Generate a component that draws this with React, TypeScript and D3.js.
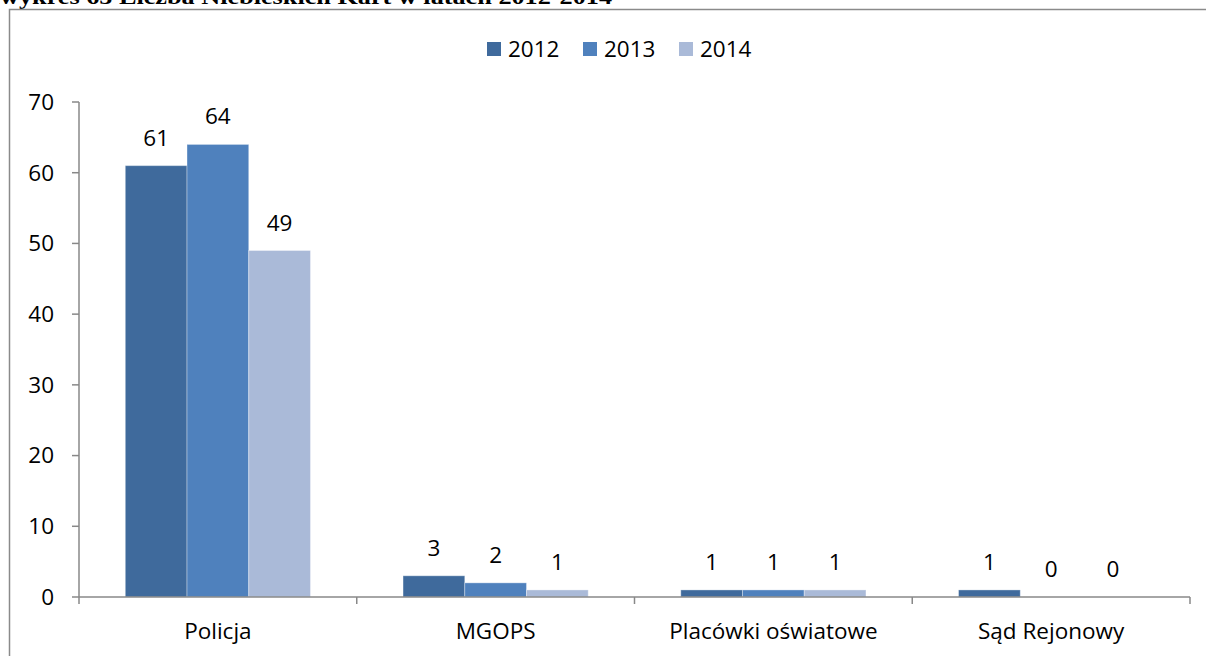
import React from "react";
import * as d3 from "d3";

const categories = ["Policja", "MGOPS", "Placówki oświatowe", "Sąd Rejonowy"];
const seriesNames = ["2012", "2013", "2014"];
const values2012 = [61, 3, 1, 1];
const values2013 = [64, 2, 1, 0];
const values2014 = [49, 1, 1, 0];
const yTicks = [0, 10, 20, 30, 40, 50, 60, 70];
const colors = ["#3F6A9C", "#4F81BD", "#AABAD8"];
const titleText = "wykres 65 Liczba Niebieskich Kart w latach 2012-2014";

const W = 1206;
const H = 656;
const FONT = "'Open Sans', 'Liberation Sans', sans-serif";
const FS = 22.5;

export default function App() {
  const series = [values2012, values2013, values2014];
  const x0 = d3.scaleBand<string>().domain(categories).range([79, 1190]).paddingInner(0).paddingOuter(0);
  const bw = x0.bandwidth();
  const barW = bw / 4.5;
  const x1 = d3.scaleBand<string>().domain(seriesNames).range([0, barW * 3]);
  const y = d3.scaleLinear().domain([0, 70]).range([597, 102]);

  const boundaries = categories.map((c) => x0(c)!).concat([1190]);

  return (
    <svg width={W} height={H} style={{ position: "absolute", left: 0, top: 0, display: "block" }}>
      <rect x={0} y={0} width={W} height={H} fill="#fff" />
      <text x={0} y={4} fontFamily="'Liberation Serif', 'Times New Roman', serif" fontWeight="bold" fontSize={22} textLength={612} lengthAdjust="spacingAndGlyphs" fill="#000">
        {titleText}
      </text>
      {/* chart border */}
      <path d={`M9.5,${H + 2} V9.5 H${W + 2}`} fill="none" stroke="#8a8a8a" strokeWidth={1.5} />

      {/* legend */}
      {seriesNames.map((s, i) => (
        <g key={s} transform={`translate(${487 + i * 96},0)`}>
          <rect x={0} y={42} width={14} height={14} fill={colors[i]} />
          <text x={21} y={49} dy="0.35em" fontFamily={FONT} fontSize={FS} fill="#000">{s}</text>
        </g>
      ))}

      {/* y axis */}
      <line x1={79} x2={79} y1={102} y2={597} stroke="#888" strokeWidth={1.5} />
      {yTicks.map((t) => (
        <g key={t}>
          <line x1={72} x2={79} y1={y(t)} y2={y(t)} stroke="#888" strokeWidth={1.5} />
          <text x={54} y={y(t)} dy="0.35em" textAnchor="end" fontFamily={FONT} fontSize={FS} fill="#000">{t}</text>
        </g>
      ))}

      {/* bars */}
      {categories.map((c, ci) => {
        const start = x0(c)! + (bw - barW * 3) / 2;
        return (
          <g key={c}>
            {seriesNames.map((s, si) => {
              const v = series[si][ci];
              const bx = start + x1(s)!;
              return (
                <g key={s}>
                  {v > 0 && (
                    <rect x={bx} y={y(v)} width={barW} height={y(0) - y(v)} fill={colors[si]} stroke="#ffffff" strokeOpacity={0.35} strokeWidth={1} />
                  )}
                  <text x={bx + barW / 2} y={y(v) - 20} textAnchor="middle" fontFamily={FONT} fontSize={FS} fill="#000">{v}</text>
                </g>
              );
            })}
            <text x={x0(c)! + bw / 2} y={639} textAnchor="middle" fontFamily={FONT} fontSize={FS} fill="#000">{c}</text>
          </g>
        );
      })}

      {/* x axis */}
      <line x1={79} x2={1190} y1={597} y2={597} stroke="#888" strokeWidth={1.5} />
      {boundaries.map((b, i) => (
        <line key={i} x1={b} x2={b} y1={597} y2={604} stroke="#888" strokeWidth={1.5} />
      ))}
    </svg>
  );
}
